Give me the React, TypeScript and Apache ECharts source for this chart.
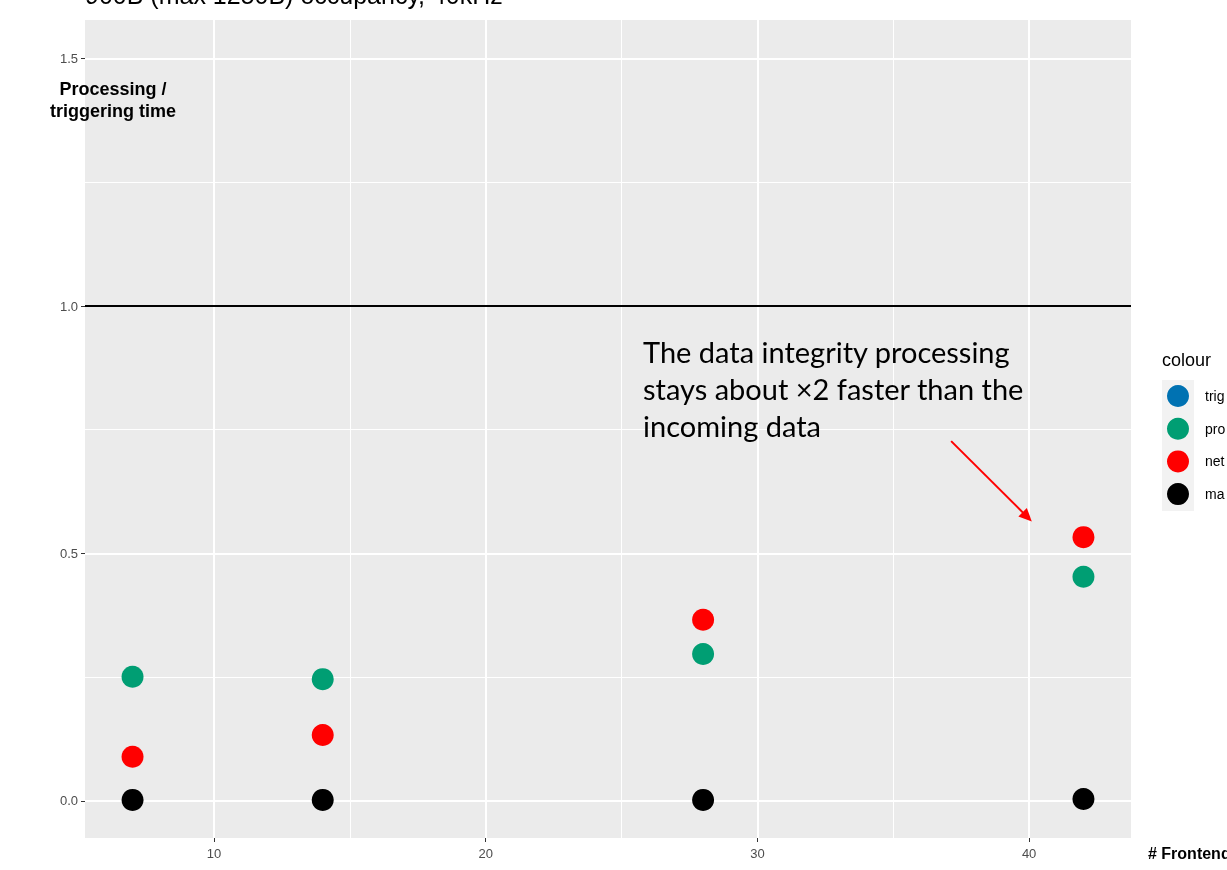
import React, { useEffect, useRef } from "react";
import * as echarts from "echarts";

const frontends = [7, 14, 28, 42];
const trigValues: number[] = [];
const procValues = [0.251, 0.246, 0.297, 0.453];
const netValues = [0.089, 0.133, 0.366, 0.533];
const maxValues = [0.002, 0.002, 0.002, 0.004];
const seriesNames = ["trig", "pro", "net", "ma"];
const seriesColors = ["#0072B2", "#009E73", "#FF0000", "#000000"];
const xMajor = [10, 20, 30, 40];
const xMinor = [15, 25, 35];
const yMajor = [0, 0.5, 1.0, 1.5];
const yMinor = [0.25, 0.75, 1.25];
const refLine = 1.0;
const arrowFrom = [37.13, 0.727];
const arrowTo = [39.93, 0.574];

export default function App() {
  const ref = useRef<HTMLDivElement>(null);
  useEffect(() => {
    const chart = echarts.init(ref.current!, null, { renderer: "svg" });
    const pairs = (vals: number[]) => vals.map((v, i) => [frontends[i], v]);
    const allData = [trigValues.length ? pairs(trigValues) : [], pairs(procValues), pairs(netValues), pairs(maxValues)];
    const gridLines = [
      ...xMajor.map((v) => ({ xAxis: v, lineStyle: { color: "#FFFFFF", width: 2, type: "solid" } })),
      ...xMinor.map((v) => ({ xAxis: v, lineStyle: { color: "#FFFFFF", width: 1, type: "solid" } })),
      ...yMajor.map((v) => ({ yAxis: v, lineStyle: { color: "#FFFFFF", width: 2, type: "solid" } })),
      ...yMinor.map((v) => ({ yAxis: v, lineStyle: { color: "#FFFFFF", width: 1, type: "solid" } })),
    ];
    chart.setOption({
      animation: false,
      grid: { left: 85, right: 96, top: 20, bottom: 32, show: true, backgroundColor: "#EBEBEB", borderWidth: 0 },
      xAxis: {
        type: "value",
        min: 5.25,
        max: 43.75,
        axisLine: { show: false, onZero: false },
        splitLine: { show: false },
        axisTick: { show: true, length: 4, lineStyle: { color: "#333333", width: 1 }, customValues: xMajor },
        axisLabel: { customValues: xMajor, color: "#4D4D4D", fontSize: 13, fontFamily: "Liberation Sans", margin: 9 },
      },
      yAxis: {
        type: "value",
        min: -0.075,
        max: 1.578,
        axisLine: { show: false, onZero: false },
        splitLine: { show: false },
        axisTick: { show: true, length: 4, lineStyle: { color: "#333333", width: 1 }, customValues: yMajor },
        axisLabel: {
          customValues: yMajor,
          color: "#4D4D4D",
          fontSize: 13,
          fontFamily: "Liberation Sans",
          margin: 7,
          formatter: (v: number) => v.toFixed(1),
        },
      },
      legend: {
        data: seriesNames,
        orient: "vertical",
        left: 1162,
        top: 380,
        icon: "circle",
        itemWidth: 32,
        itemHeight: 22,
        itemGap: 10.7,
        textStyle: { fontSize: 14, fontFamily: "Liberation Sans", color: "#000000", padding: [0, 0, 0, 6] },
        selectedMode: false,
      },
      graphic: [
        { type: "rect", left: 1162, top: 380, shape: { width: 32, height: 131 }, style: { fill: "#F2F2F2" }, z: -1 },
        {
          type: "text",
          x: 1162,
          y: 360,
          style: { text: "colour", font: "18px 'Liberation Sans'", fill: "#000000", verticalAlign: "middle" },
        },
        {
          type: "text",
          x: 85,
          y: -5.5,
          style: { text: "900B (max 1250B) occupancy, 40kHz", font: "25px 'Liberation Sans'", fill: "#000000", verticalAlign: "middle" },
        },
        {
          type: "text",
          x: 113,
          y: 100,
          style: {
            text: "Processing /\ntriggering time",
            font: "bold 18px 'Liberation Sans'",
            lineHeight: 22,
            fill: "#000000",
            align: "center",
            verticalAlign: "middle",
          },
        },
        {
          type: "text",
          x: 1148,
          y: 853,
          style: { text: "# Frontends", font: "bold 16px 'Liberation Sans'", fill: "#000000", verticalAlign: "middle" },
        },
        {
          type: "text",
          x: 643,
          y: 333,
          z: 20,
          style: {
            text: "The data integrity processing\nstays about \u00d72 faster than the\nincoming data",
            font: "29px Lato",
            lineHeight: 37,
            fill: "#000000",
            verticalAlign: "top",
          },
        },
      ],
      series: [
        {
          type: "line",
          name: "_grid",
          data: [],
          z: 0,
          silent: true,
          markLine: { silent: true, z: 0, symbol: "none", label: { show: false }, data: gridLines, animation: false },
        },
        {
          type: "line",
          name: "_ref",
          data: [],
          z: 1,
          silent: true,
          markLine: {
            silent: true,
            z: 1,
            symbol: "none",
            label: { show: false },
            animation: false,
            data: [
              { yAxis: refLine, lineStyle: { color: "#000000", width: 1.8, type: "solid" } },
              [
                { coord: arrowFrom, lineStyle: { color: "#FF0000", width: 2, type: "solid" }, symbol: "none" },
                { coord: arrowTo, symbol: "triangle", symbolSize: [12, 13] },
              ],
            ],
          },
        },
        ...seriesNames.map((n, i) => ({
          type: "scatter",
          name: n,
          data: allData[i],
          symbol: "circle",
          symbolSize: 22,
          itemStyle: { color: seriesColors[i], opacity: 1 },
          z: 3,
        })),
      ],
    });
    return () => chart.dispose();
  }, []);
  return <div ref={ref} style={{ position: "fixed", left: 0, top: 0, width: 1227, height: 870 }} />;
}
